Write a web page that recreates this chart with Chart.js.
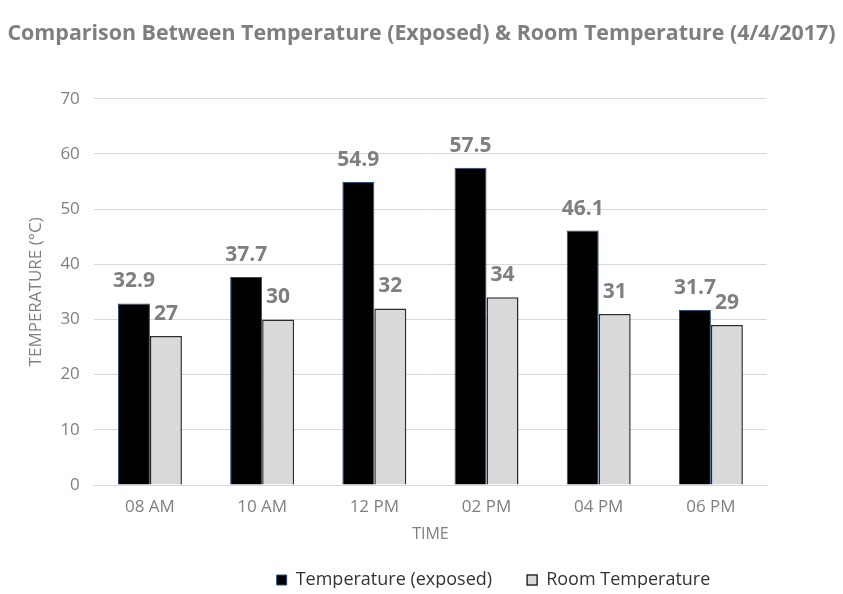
<!DOCTYPE html>
<html>
<head>
<meta charset="utf-8">
<script src="https://cdn.jsdelivr.net/npm/chart.js@4.4.1/dist/chart.umd.min.js"></script>
<style>
    html, body { margin: 0; padding: 0; background: #fff; }
    #wrap { width: 843px; height: 594px; }
</style>
</head>
<body>
<div id="wrap"><canvas id="chart"></canvas></div>
<script>
const timeLabels = ['08 AM', '10 AM', '12 PM', '02 PM', '04 PM', '06 PM'];
const exposedTemp = [32.9, 37.7, 54.9, 57.5, 46.1, 31.7];
const roomTemp = [27, 30, 32, 34, 31, 29];
const yTicks = [0, 10, 20, 30, 40, 50, 60, 70];

const grayText = '#7f7f7f';

// draws the value above each bar
const valueLabels = {
    id: 'valueLabels',
    afterDatasetsDraw(chart) {
        const ctx = chart.ctx;
        ctx.save();
        ctx.font = 'bold 21px "Open Sans"';
        ctx.fillStyle = grayText;
        ctx.textAlign = 'center';
        ctx.textBaseline = 'alphabetic';
        chart.data.datasets.forEach((ds, i) => {
            chart.getDatasetMeta(i).data.forEach((bar, j) => {
                ctx.fillText(String(ds.data[j]), bar.x, bar.y - 16);
            });
        });
        ctx.restore();
    }
};

// title over the whole width, legend pushed right/up like the original
const placeBoxes = {
    id: 'placeBoxes',
    afterLayout(chart) {
        const lg = chart.legend;
        chart.titleBlock.left = 0;
        chart.titleBlock.right = chart.width;
        lg.left += 97;
        lg.right += 97;
        lg.top -= 6;
        lg.bottom -= 6;
    }
};

new Chart(document.getElementById('chart'), {
    type: 'bar',
    data: {
        labels: timeLabels,
        datasets: [
            { label: 'Temperature (exposed)', data: exposedTemp, backgroundColor: '#000000', borderColor: '#2a4a7a', borderWidth: 1 },
            { label: 'Room Temperature', data: roomTemp, backgroundColor: '#d9d9d9', borderColor: '#2b2b2b', borderWidth: 1.5 }
        ]
    },
    options: {
        responsive: true,
        maintainAspectRatio: false,
        animation: false,
        layout: { padding: { left: 26, right: 76, top: 0, bottom: 0 } },
        datasets: { bar: { barPercentage: 1, categoryPercentage: 0.57 } },
        scales: {
            x: {
                grid: { display: false, drawTicks: false },
                border: { color: '#d9d9d9' },
                ticks: { color: grayText, font: { family: 'Open Sans', size: 17, lineHeight: 1 }, padding: 14 },
                title: { display: true, text: 'TIME', color: grayText, font: { family: 'Open Sans', size: 16, lineHeight: 1 }, padding: { top: -4, bottom: 0 } }
            },
            y: {
                min: 0,
                max: 70,
                afterBuildTicks: axis => { axis.ticks = yTicks.map(v => ({ value: v })); },
                grid: { color: '#d9d9d9', drawTicks: false },
                border: { display: false },
                ticks: { color: grayText, font: { family: 'Open Sans', size: 17 }, padding: 14 },
                title: { display: true, text: 'TEMPERATURE (°C)', color: grayText, font: { family: 'Open Sans', size: 17 }, padding: { top: 0, bottom: 0 } }
            }
        },
        plugins: {
            title: {
                display: true,
                text: 'Comparison Between Temperature (Exposed) & Room Temperature (4/4/2017)',
                color: grayText,
                font: { family: 'Open Sans', size: 21.4, weight: 'bold' },
                padding: { top: 21, bottom: 52 }
            },
            legend: {
                position: 'bottom',
                maxHeight: 52,
                labels: {
                    color: '#333333',
                    font: { family: 'Open Sans', size: 18 },
                    boxWidth: 10,
                    boxHeight: 10,
                    padding: 35
                }
            },
            tooltip: { enabled: false }
        }
    },
    plugins: [valueLabels, placeBoxes]
});
</script>
</body>
</html>
